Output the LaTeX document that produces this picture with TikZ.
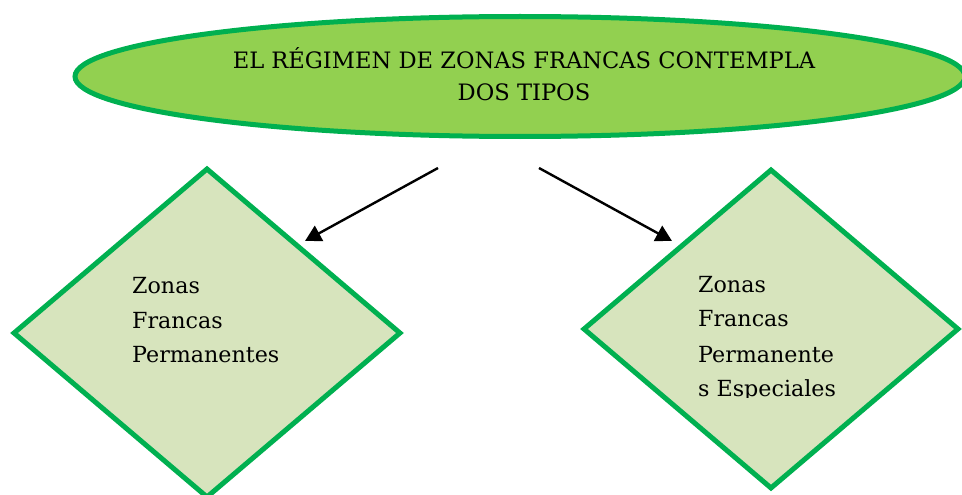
\documentclass[tikz,border=0pt]{standalone}
\usepackage{fontspec}
\setmainfont{DejaVu Serif}
\usetikzlibrary{shapes.geometric,arrows.meta}
\definecolor{ellfill}{HTML}{92D050}
\definecolor{grn}{HTML}{00B050}
\definecolor{dfill}{HTML}{D7E4BD}
\begin{document}
\begin{tikzpicture}[x=1pt,y=-1pt,
  ovalbox/.style={ellipse,draw=grn,fill=ellfill,line width=5pt,inner sep=0pt,minimum width=890pt,minimum height=120pt},
  diabox/.style={diamond,draw=grn,fill=dfill,line width=5pt,inner sep=0pt},
  ttl/.style={font=\fontsize{22.6}{32}\selectfont,align=center},
  dtext/.style={font=\fontsize{22.2}{34.5}\selectfont,anchor=base west,inner sep=0pt},
  conn/.style={line width=2.4pt,-{Triangle[length=16pt,width=17pt]}}]
\useasboundingbox (0,0) rectangle (962,495);
\node[ovalbox] (top) at (520,76.5) {};
\node[ttl,anchor=base] (title) at (524,100) {EL RÉGIMEN DE ZONAS FRANCAS CONTEMPLA\\DOS TIPOS};
\node[diabox,minimum width=388pt,minimum height=330pt] (left) at (207,333) {};
\node[diabox,minimum width=376pt,minimum height=320pt] (right) at (771,329) {};
\node[dtext] (l1) at (132,293) {Zonas};
\node[dtext] (l2) at (132,328) {Francas};
\node[dtext] (l3) at (132,362) {Permanentes};
\begin{scope}
\clip (690,250) rectangle (860,397);
\node[dtext] (r1) at (698,292) {Zonas};
\node[dtext] (r2) at (698,326) {Francas};
\node[dtext] (r3) at (698,362) {Permanente};
\node[dtext] (r4) at (698,396) {s Especiales};
\end{scope}
\coordinate (s1) at (438,168);
\coordinate (e1) at (305,241);
\coordinate (s2) at (539,168);
\coordinate (e2) at (672,241);
\draw[conn] (s1) -- (e1);
\draw[conn] (s2) -- (e2);
\end{tikzpicture}
\end{document}
